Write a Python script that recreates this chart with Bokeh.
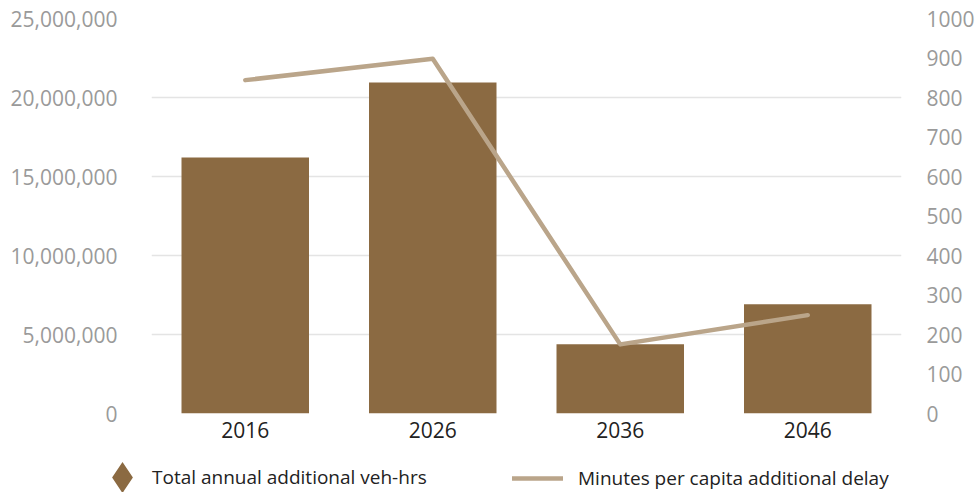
from bokeh.plotting import figure
from bokeh.layouts import column
from bokeh.models import (Range1d, LinearAxis, FixedTicker, NumeralTickFormatter,
                          Legend, LegendItem, ColumnDataSource, FactorRange)
from bokeh.embed import file_html
from bokeh.resources import INLINE

# ---- data ----
years = ["2016", "2026", "2036", "2046"]
veh_hrs = [16200000, 20950000, 4390000, 6920000]
minutes = [844, 898, 175, 249]
left_ticks = [0, 5000000, 10000000, 15000000, 20000000, 25000000]
right_ticks = [0, 100, 200, 300, 400, 500, 600, 700, 800, 900, 1000]
bar_label = "Total annual additional veh-hrs"
line_label = "Minutes per capita additional delay"

BAR = "#8B6A42"
LINE = "#BAA58A"
GRID = "#E4E4E4"
TICK = "#9A9A9A"
DARK = "#222222"
FONT = "Open Sans"

p = figure(x_range=FactorRange(*years), y_range=Range1d(0, 25000000),
           width=977, height=450, output_backend="svg", toolbar_location=None,
           min_border_left=151, min_border_right=70, min_border_top=18,
           min_border_bottom=37)
p.frame_align = False
p.extra_y_ranges = {"right": Range1d(0, 1000)}
p.outline_line_color = None
p.background_fill_color = "white"

src = ColumnDataSource(dict(year=years, veh=veh_hrs, mins=minutes))
p.vbar(x="year", top="veh", width=0.68, source=src, fill_color=BAR, line_color=None)
p.line(x="year", y="mins", source=src, y_range_name="right",
       line_color=LINE, line_width=4.5, line_cap="round", line_join="round")

# left axis
ya = p.yaxis[0]
ya.ticker = FixedTicker(ticks=left_ticks)
ya.formatter = NumeralTickFormatter(format="0,0")
ya.axis_line_color = None
ya.major_tick_line_color = None
ya.minor_tick_line_color = None
ya.major_label_standoff = 28
ya.major_label_text_font = FONT
ya.major_label_text_font_size = "21px"
ya.major_label_text_color = TICK

# right axis
ra = LinearAxis(y_range_name="right", ticker=FixedTicker(ticks=right_ticks),
                formatter=NumeralTickFormatter(format="0"))
ra.axis_line_color = None
ra.major_tick_line_color = None
ra.minor_tick_line_color = None
ra.major_label_standoff = 19
ra.major_label_text_font = FONT
ra.major_label_text_font_size = "21px"
ra.major_label_text_color = TICK
p.add_layout(ra, "right")

# x axis
xa = p.xaxis[0]
xa.axis_line_color = None
xa.major_tick_line_color = None
xa.minor_tick_line_color = None
xa.major_label_standoff = 2
xa.major_label_text_font = FONT
xa.major_label_text_font_size = "21px"
xa.major_label_text_color = DARK

p.xgrid.grid_line_color = None
p.ygrid.ticker = FixedTicker(ticks=left_ticks)
p.ygrid.grid_line_color = GRID
p.ygrid.grid_line_width = 1.5

# ---- legend strip (separate figure below the chart) ----
lf = figure(width=977, height=42, output_backend="svg", toolbar_location=None,
            x_axis_type=None, y_axis_type=None,
            x_range=Range1d(0, 1), y_range=Range1d(0, 1),
            min_border_left=0, min_border_right=0, min_border_top=0,
            min_border_bottom=0)
lf.frame_align = False
lf.outline_line_color = None
lf.xgrid.grid_line_color = None
lf.ygrid.grid_line_color = None
nan = float("nan")
key_bar = lf.scatter(x=[nan], y=[nan], marker="diamond",
                     fill_color=BAR, line_color=BAR, line_width=4,
                     line_join="miter")
key_line = lf.line(x=[nan, nan], y=[nan, nan], line_color=LINE, line_width=4.5,
                   line_cap="round")

common = dict(orientation="horizontal", padding=0, margin=0, spacing=0,
              background_fill_alpha=0, border_line_alpha=0,
              label_text_font=FONT, label_text_font_size="19px",
              label_text_color=DARK)
leg1 = Legend(items=[LegendItem(label=bar_label, renderers=[key_bar])],
              location=(92, -15), glyph_width=60, glyph_height=60,
              label_standoff=0, **common)
leg2 = Legend(items=[LegendItem(label=line_label, renderers=[key_line])],
              location=(512, 0), glyph_width=51, glyph_height=28,
              label_standoff=15, **common)
lf.add_layout(leg1)
lf.add_layout(leg2)

layout = column(p, lf, spacing=0)
open("out.html", "w").write(file_html(layout, INLINE))
